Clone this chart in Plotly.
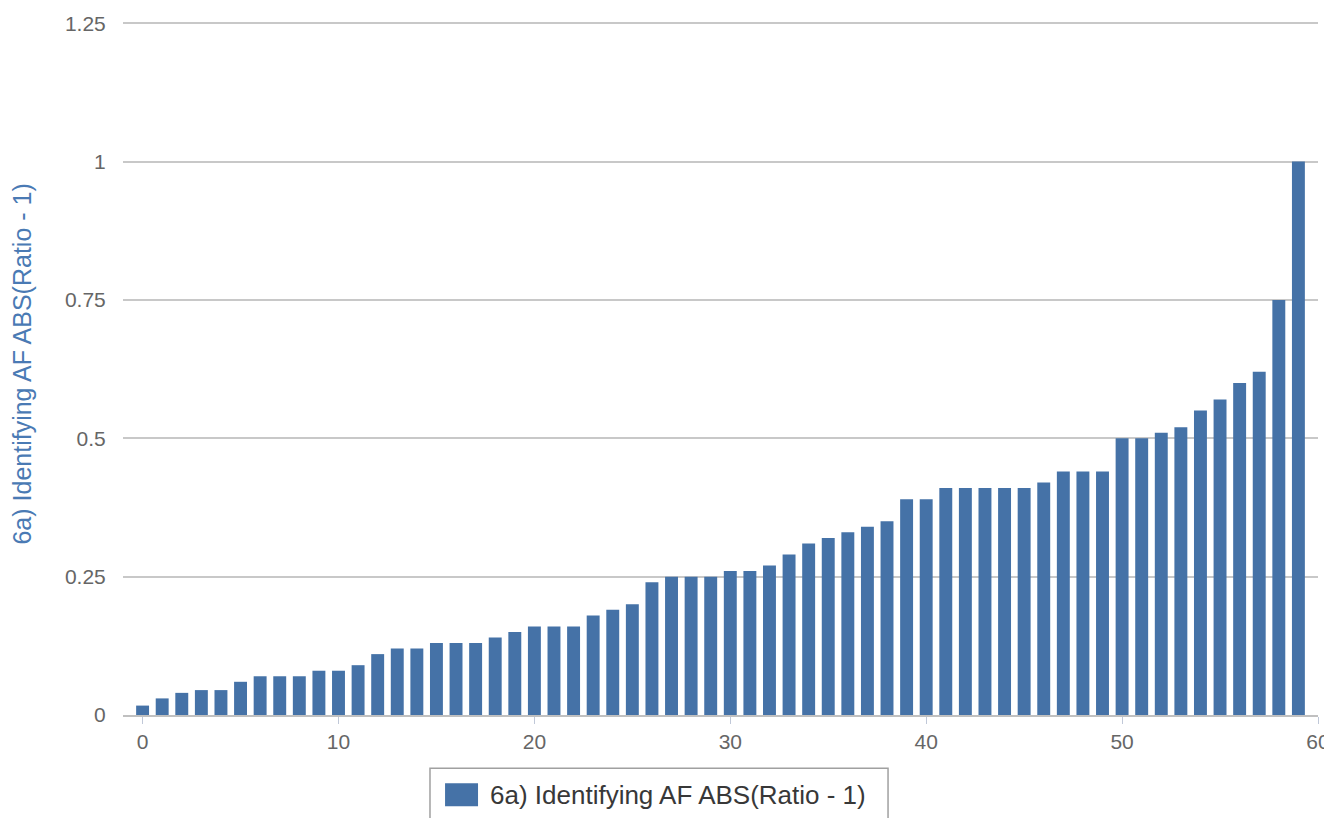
import plotly.graph_objects as go

categories = list(range(60))
values = [0.017, 0.03, 0.04, 0.045, 0.045, 0.06, 0.07, 0.07, 0.07, 0.08,
          0.08, 0.09, 0.11, 0.12, 0.12, 0.13, 0.13, 0.13, 0.14, 0.15,
          0.16, 0.16, 0.16, 0.18, 0.19, 0.2, 0.24, 0.25, 0.25, 0.25,
          0.26, 0.26, 0.27, 0.29, 0.31, 0.32, 0.33, 0.34, 0.35, 0.39,
          0.39, 0.41, 0.41, 0.41, 0.41, 0.41, 0.42, 0.44, 0.44, 0.44,
          0.5, 0.5, 0.51, 0.52, 0.55, 0.57, 0.6, 0.62, 0.75, 1.0]
series_name = "6a) Identifying AF ABS(Ratio - 1)"
y_ticks = [0, 0.25, 0.5, 0.75, 1, 1.25]
y_tick_labels = ["0", "0.25", "0.5", "0.75", "1", "1.25"]
x_ticks = [0, 10, 20, 30, 40, 50, 60]

BAR_COLOR = "#4572A7"
FONT = "Liberation Sans, Arial, sans-serif"

fig = go.Figure()
fig.add_trace(go.Bar(
    x=categories, y=values, name=series_name,
    marker=dict(color=BAR_COLOR, line=dict(width=0)),
    width=0.66, showlegend=False,
))

# y-axis title (placed as rotated text to match the reference position)
fig.add_annotation(xref="paper", yref="paper", x=-0.0845, y=0.505,
                   xanchor="center", yanchor="middle", textangle=-90, showarrow=False,
                   text=series_name, font=dict(family=FONT, size=25, color="#4A7AB4"))

# manual legend (large swatch like the reference)
fig.add_shape(type="rect", xref="paper", yref="paper",
              x0=0.2569, x1=0.6402, y0=-0.1777, y1=-0.0766,
              line=dict(color="#A0A0A0", width=1.5), fillcolor="white", layer="above")
fig.add_shape(type="rect", xref="paper", yref="paper",
              x0=0.2695, x1=0.2971, y0=-0.1315, y1=-0.0983,
              line=dict(width=0), fillcolor=BAR_COLOR, layer="above")
fig.add_annotation(xref="paper", yref="paper", x=0.3054, y=-0.1156,
                   xanchor="left", yanchor="middle", showarrow=False,
                   text=series_name, font=dict(family=FONT, size=26, color="#383838"))

fig.update_layout(
    width=1332, height=818,
    margin=dict(l=115, r=22, t=13, b=111),
    paper_bgcolor="white", plot_bgcolor="white",
    font=dict(family=FONT, color="#666666", size=21),
    showlegend=False,
    xaxis=dict(
        range=[-1, 60], tickmode="array", tickvals=x_ticks,
        showgrid=False, zeroline=False, automargin=False,
        showline=True, linecolor="#C0C0C0", linewidth=1.5,
        ticks="outside", ticklen=7, tickcolor="#C0C8D8",
        tickfont=dict(family=FONT, size=21, color="#666666"),
    ),
    yaxis=dict(
        range=[0, 1.254], tickmode="array", tickvals=y_ticks, ticktext=y_tick_labels,
        showgrid=True, gridcolor="#C8C8C8", gridwidth=1.5,
        zeroline=False, showline=False, automargin=False,
        ticks="outside", ticklen=12, tickcolor="rgba(0,0,0,0)",
        tickfont=dict(family=FONT, size=21, color="#666666"),
    ),
)

fig.write_html("out.html")
